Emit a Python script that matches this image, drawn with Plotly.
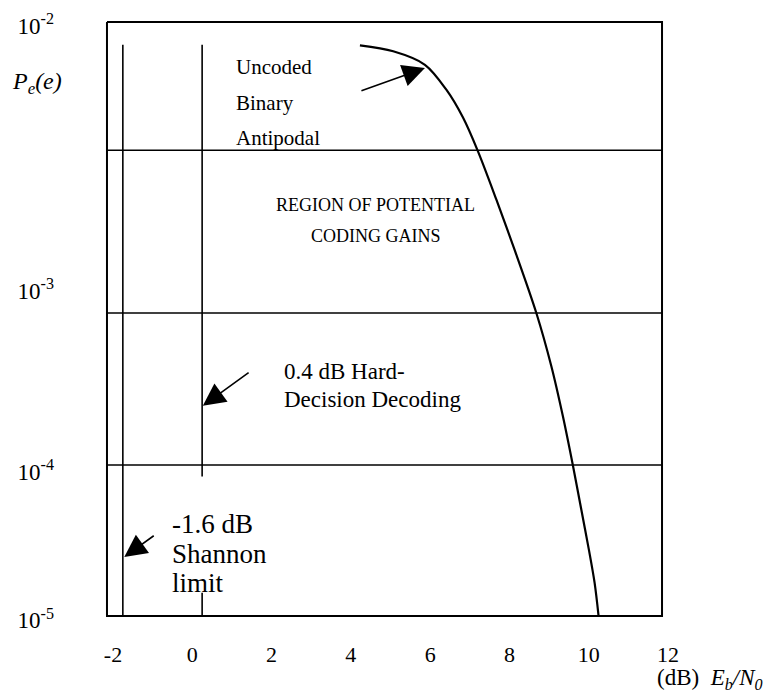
import numpy as np
import plotly.graph_objects as go

# ---- data ----
ebn0_db = [4.38, 5.22, 6.02, 6.56, 6.98, 7.35, 7.82, 8.28, 8.83, 9.21, 9.50, 9.75, 9.965, 10.156, 10.30, 10.40]
pe_uncoded = [7.62e-3, 7.11e-3, 6.08e-3, 4.55e-3, 3.29e-3, 2.24e-3, 1.27e-3, 7.08e-4, 3.39e-4,
              1.82e-4, 1.02e-4, 5.79e-5, 3.44e-5, 2.16e-5, 1.47e-5, 1.0e-5]

shannon_db = -1.6
shannon_pe = [7.68e-3, 1.0e-5]
hard_db = 0.4
hard_pe_upper = [7.68e-3, 5.07e-5]
hard_pe_lower = [1.31e-5, 1.0e-5]

grid_pe = [2.25e-3, 3.39e-4, 5.79e-5]
frame_db = [-2, 12]
frame_pe = [1e-5, 1e-2]

x_tick_vals = [-2, 0, 2, 4, 6, 8, 10, 12]
x_tick_text = ["-2", "0", "2", "4", "6", "8", "10", "12"]
y_tick_vals = [10 ** -2.019, 10 ** -3.357, 10 ** -4.270, 10 ** -5.021]
y_tick_text = ["10<sup>-2</sup>", "10<sup>-3</sup>", "10<sup>-4</sup>", "10<sup>-5</sup>"]

FONT = "Liberation Serif, Times New Roman, serif"
BLACK = "#000000"

fig = go.Figure()


def add_line(xs, ys, width=1.5):
    fig.add_trace(go.Scatter(x=xs, y=ys, mode="lines", line=dict(color=BLACK, width=width),
                             hoverinfo="skip", showlegend=False, cliponaxis=False))


# frame
add_line([frame_db[0], frame_db[1], frame_db[1], frame_db[0], frame_db[0]],
         [frame_pe[1], frame_pe[1], frame_pe[0], frame_pe[0], frame_pe[1]], width=2)
# horizontal reference lines
for p in grid_pe:
    add_line(frame_db, [p, p], width=1.6)
# Shannon limit and hard-decision lines
add_line([shannon_db, shannon_db], shannon_pe, width=1.6)
add_line([hard_db, hard_db], hard_pe_upper, width=1.6)
add_line([hard_db, hard_db], hard_pe_lower, width=1.6)

# uncoded curve
fig.add_trace(go.Scatter(x=ebn0_db, y=pe_uncoded, mode="lines",
                         line=dict(color=BLACK, width=2.2, shape="spline", smoothing=0.9),
                         hoverinfo="skip", showlegend=False))

ann = []


def text(x, ylog, s, size, xanchor="left"):
    ann.append(dict(x=x, y=ylog, xref="x", yref="y", text=s, showarrow=False,
                    xanchor=xanchor, yanchor="middle",
                    font=dict(family=FONT, size=size, color=BLACK)))


def paper_text(x, y, s, size, xanchor):
    ann.append(dict(x=x, y=y, xref="paper", yref="paper", text=s, showarrow=False,
                    xanchor=xanchor, yanchor="middle",
                    font=dict(family=FONT, size=size, color=BLACK)))


def arrow(x_tail, y_tail, x_tip, y_tip):
    ann.append(dict(x=x_tip, y=y_tip, ax=x_tail, ay=y_tail, xref="x", yref="y",
                    axref="x", ayref="y", text="", showarrow=True, arrowhead=2,
                    arrowsize=2.8, arrowwidth=1.6, arrowcolor=BLACK, standoff=0))


text(1.21, -2.226, "Uncoded", 21)
text(1.21, -2.409, "Binary", 21)
text(1.21, -2.588, "Antipodal", 21)
text(4.78, -2.923, "REGION OF POTENTIAL", 18, xanchor="center")
text(4.78, -3.083, "CODING GAINS", 18, xanchor="center")
text(2.42, -3.765, "0.4 dB Hard-", 23)
text(2.42, -3.908, "Decision Decoding", 23)
text(-0.40, -4.534, "-1.6 dB", 27)
text(-0.40, -4.685, "Shannon", 27)
text(-0.40, -4.832, "limit", 27)
paper_text(-0.1696, 0.896, "<i>P<sub>e</sub>(e)</i>", 24, "left")
paper_text(1.18, -0.095, "(dB)&nbsp;&nbsp;<i>E<sub>b</sub>/N<sub>0</sub></i>", 23, "right")

arrow(4.38, -2.350, 6.02, -2.232)
arrow(1.61, -3.765, 0.418, -3.938)
arrow(-0.783, -4.589, -1.564, -4.702)

fig.update_layout(
    width=774, height=699,
    margin=dict(l=96.7, r=117.5, t=12.3, b=84.8),
    paper_bgcolor="white", plot_bgcolor="white",
    showlegend=False, hovermode=False,
    annotations=ann,
    font=dict(family=FONT, color=BLACK),
)
fig.update_xaxes(range=[-2.05, 12.05], showgrid=False, zeroline=False, showline=False,
                 automargin=False,
                 tickmode="array", tickvals=x_tick_vals, ticktext=x_tick_text,
                 tickfont=dict(family=FONT, size=22, color=BLACK), ticks="",
                 ticklabelstandoff=17, ticklabelshift=6)
fig.update_yaxes(type="log", range=[-5.03, -1.99], showgrid=False, zeroline=False, showline=False,
                 automargin=False,
                 tickmode="array", tickvals=y_tick_vals, ticktext=y_tick_text,
                 tickfont=dict(family=FONT, size=23, color=BLACK), ticks="",
                 ticklabelstandoff=50)

fig.write_html("out.html")
